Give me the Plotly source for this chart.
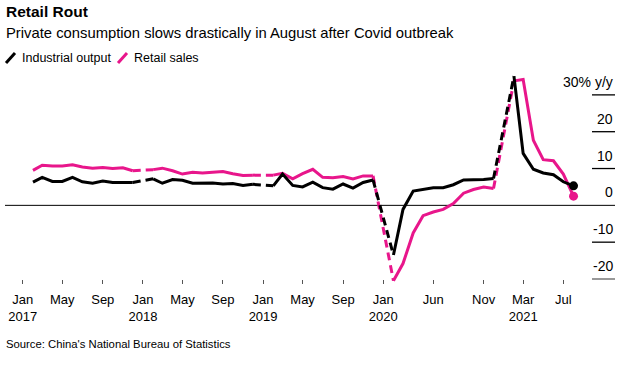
import plotly.graph_objects as go
import pandas as pd

# ---- data (y/y %, Feb..Dec each year; Jan-Feb combined shown at Feb) ----
years = [2017, 2018, 2019, 2020, 2021]
ip_2017 = [6.3, 7.6, 6.5, 6.5, 7.6, 6.4, 6.0, 6.6, 6.2, 6.1, 6.2]
ip_2018 = [7.2, 6.0, 7.0, 6.8, 6.0, 6.0, 6.1, 5.8, 5.9, 5.4, 5.7]
ip_2019 = [5.3, 8.5, 5.4, 5.0, 6.3, 4.8, 4.4, 5.8, 4.7, 6.2, 6.9]
ip_2020 = [-13.5, -1.1, 3.9, 4.4, 4.8, 4.8, 5.6, 6.9, 6.9, 7.0, 7.3]
ip_2021 = [35.1, 14.1, 9.8, 8.8, 8.3, 6.4, 5.3]

rs_2017 = [9.5, 10.9, 10.7, 10.7, 11.0, 10.4, 10.1, 10.3, 10.0, 10.2, 9.4]
rs_2018 = [9.7, 10.1, 9.4, 8.5, 9.0, 8.8, 9.0, 9.2, 8.6, 8.1, 8.2]
rs_2019 = [8.2, 8.7, 7.2, 8.6, 9.8, 7.6, 7.5, 7.8, 7.2, 8.0, 8.0]
rs_2020 = [-20.5, -15.8, -7.5, -2.8, -1.8, -1.1, 0.5, 3.3, 4.3, 5.0, 4.6]
rs_2021 = [33.8, 34.2, 17.7, 12.4, 12.1, 8.5, 2.5]

ip_years = [ip_2017, ip_2018, ip_2019, ip_2020, ip_2021]
rs_years = [rs_2017, rs_2018, rs_2019, rs_2020, rs_2021]

tick_dates = ["2017-01-01", "2017-05-01", "2017-09-01", "2018-01-01", "2018-05-01",
              "2018-09-01", "2019-01-01", "2019-05-01", "2019-09-01", "2020-01-01",
              "2020-06-01", "2020-11-01", "2021-03-01", "2021-07-01"]
tick_text = ["Jan<br>2017", "May", "Sep", "Jan<br>2018", "May", "Sep", "Jan<br>2019",
             "May", "Sep", "Jan<br>2020", "Jun", "Nov", "Mar<br>2021", "Jul"]

y_ticks = [30, 20, 10, 0, -10, -20]
y_labels = ["30% y/y", "20", "10", "0", "-10", "-20"]

BLACK = "#000000"
PINK = "#E8168B"
FONT = "Liberation Sans Narrow, Arial Narrow, Liberation Sans, Arial, sans-serif"

# pixel layout helpers
W, H = 624, 373
L, R, T, B = 5, 9, 68, 89
PW, PH = W - L - R, H - T - B


def px(x):
    return (x - L) / PW


def py(y):
    return (H - B - y) / PH


fig = go.Figure()


def add_series(vals_by_year, color):
    prev = None
    for yr, vals in zip(years, vals_by_year):
        d = pd.date_range(f"{yr}-02-01", periods=len(vals), freq="MS")
        if prev is not None:
            fig.add_trace(go.Scatter(x=[prev[0], d[0]], y=[prev[1], vals[0]], mode="lines",
                                     line=dict(color=color, width=3, dash="8px,5px"),
                                     hoverinfo="skip", showlegend=False))
        fig.add_trace(go.Scatter(x=d, y=vals, mode="lines",
                                 line=dict(color=color, width=3),
                                 hoverinfo="skip", showlegend=False))
        prev = (d[-1], vals[-1])
    fig.add_trace(go.Scatter(x=[prev[0]], y=[prev[1]], mode="markers",
                             marker=dict(color=color, size=9),
                             hoverinfo="skip", showlegend=False))


add_series(rs_years, PINK)
add_series(ip_years, BLACK)

shapes = []
annotations = []
for v, lab in zip(y_ticks, y_labels):
    if v == 0:
        shapes.append(dict(type="line", xref="paper", yref="y", x0=0, x1=1, y0=0, y1=0,
                           line=dict(color=BLACK, width=1), layer="below"))
    else:
        shapes.append(dict(type="line", xref="paper", yref="y", x0=px(592), x1=1, y0=v, y1=v,
                           line=dict(color="#999999" if v == -20 else BLACK,
                                     width=2 if v == -20 else 1.3)))
    annotations.append(dict(text=lab, xref="paper", yref="y", x=1, y=v, xanchor="right",
                            yanchor="bottom", yshift=3, showarrow=False,
                            font=dict(family=FONT, size=14, color="#000")))

# legend icons
shapes.append(dict(type="line", xref="paper", yref="paper", x0=px(6), y0=py(63), x1=px(15), y1=py(53),
                   line=dict(color=BLACK, width=3)))
shapes.append(dict(type="line", xref="paper", yref="paper", x0=px(118), y0=py(63), x1=px(127), y1=py(53),
                   line=dict(color=PINK, width=3)))

annotations += [
    dict(text="<b>Retail Rout</b>", xref="paper", yref="paper", x=px(4), y=py(12),
         xanchor="left", yanchor="middle", showarrow=False, font=dict(family=FONT, size=15.5, color="#000")),
    dict(text="Private consumption slows drastically in August after Covid outbreak", xref="paper",
         yref="paper", x=px(4), y=py(33), xanchor="left", yanchor="middle", showarrow=False,
         font=dict(family=FONT, size=14.8, color="#000")),
    dict(text="Industrial output", xref="paper", yref="paper", x=px(20), y=py(58),
         xanchor="left", yanchor="middle", showarrow=False, font=dict(family=FONT, size=12.5, color="#000")),
    dict(text="Retail sales", xref="paper", yref="paper", x=px(132), y=py(58),
         xanchor="left", yanchor="middle", showarrow=False, font=dict(family=FONT, size=12.5, color="#000")),
    dict(text="Source: China's National Bureau of Statistics", xref="paper", yref="paper", x=px(4),
         y=py(344), xanchor="left", yanchor="middle", showarrow=False,
         font=dict(family=FONT, size=11.3, color="#000")),
]

fig.update_layout(
    width=W, height=H,
    margin=dict(l=L, r=R, t=T, b=B),
    paper_bgcolor="white", plot_bgcolor="white",
    showlegend=False,
    shapes=shapes, annotations=annotations,
    font=dict(family=FONT, size=13, color="#000"),
    xaxis=dict(type="date", range=["2016-11-08", "2021-12-05"], tickmode="array",
               tickvals=tick_dates, ticktext=tick_text, ticks="inside", ticklen=4,
               tickcolor="#555", tickwidth=1, showgrid=False, showline=False, zeroline=False,
               ticklabelstandoff=6,
               tickfont=dict(family=FONT, size=13, color="#000")),
    yaxis=dict(range=[-21.36, 37.3], showticklabels=False, showgrid=False, zeroline=False,
               showline=False, ticks=""),
)

fig.write_html("out.html", post_script="document.body.style.margin='0';",
               config={"displayModeBar": False})
